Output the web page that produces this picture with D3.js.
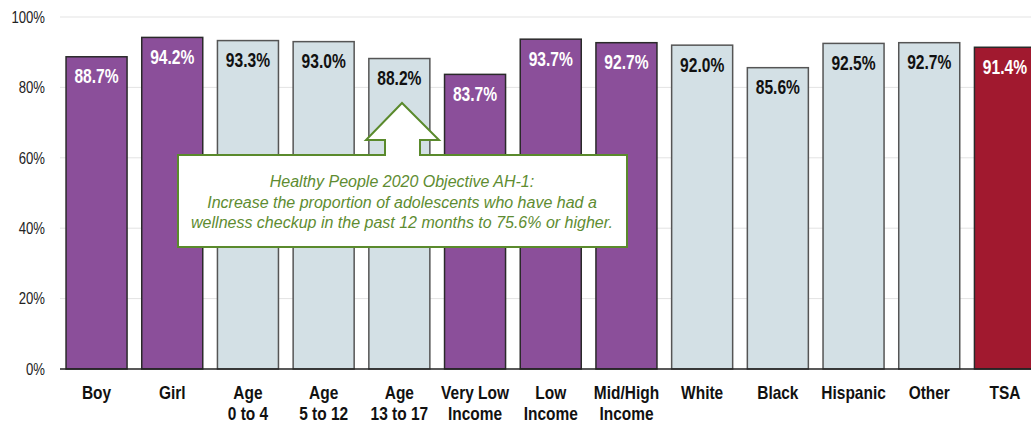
<!DOCTYPE html>
<html><head><meta charset="utf-8">
<script src="https://cdn.jsdelivr.net/npm/d3@7"></script>
<style>
body{margin:0;background:#fff;}
svg{display:block;}
</style></head>
<body>
<svg id="chart" width="1031" height="425"></svg>
<script>
const categories = [["Boy"],["Girl"],["Age","0 to 4"],["Age","5 to 12"],["Age","13 to 17"],["Very Low","Income"],["Low","Income"],["Mid/High","Income"],["White"],["Black"],["Hispanic"],["Other"],["TSA"]];
const values = [88.7,94.2,93.3,93.0,88.2,83.7,93.7,92.7,92.0,85.6,92.5,92.7,91.4];
const groups = ["sex","sex","age","age","age","income","income","income","race","race","race","race","total"];
const yTicks = [0,20,40,60,80,100];
const calloutLines = ["Healthy People 2020 Objective AH-1:","Increase the proportion of adolescents who have had a","wellness checkup in the past 12 months to 75.6% or higher."];

const fills = {sex:"#8b4f9a",age:"#d3e0e5",income:"#8b4f9a",race:"#d3e0e5",total:"#a1192f"};
const strokes = {sex:"#2a2a2a",age:"#555",income:"#2a2a2a",race:"#555",total:"#2a2a2a"};
const labelColor = {sex:"#fff",age:"#111",income:"#fff",race:"#111",total:"#fff"};
const font = "'Liberation Sans',Arial,sans-serif";

const svg = d3.select("#chart");
const idx = d3.range(values.length);
const x = d3.scaleBand().domain(idx).range([58.7,1042.8]).paddingInner(0.194).paddingOuter(0.097);
const y = d3.scaleLinear().domain([0,100]).range([369,17]);

// gridlines
svg.append("g").selectAll("line").data(yTicks.filter(d=>d>0)).join("line")
  .attr("x1",60).attr("x2",1031).attr("y1",d=>y(d)).attr("y2",d=>y(d))
  .attr("stroke","#e3e3e3").attr("stroke-width",1);

// y tick labels (condensed)
svg.append("g").selectAll("text").data(yTicks).join("text")
  .attr("transform",d=>`translate(45,${y(d)+5.8}) scale(0.82,1)`).attr("text-anchor","end")
  .attr("font-family",font).attr("font-size",16).attr("fill","#222")
  .text(d=>d+"%");

// bars
svg.append("g").selectAll("rect").data(idx).join("rect")
  .attr("x",i=>x(i)).attr("y",i=>y(values[i])).attr("width",x.bandwidth())
  .attr("height",i=>y(0)-y(values[i]))
  .attr("fill",i=>fills[groups[i]]).attr("stroke",i=>strokes[groups[i]]).attr("stroke-width",1.5);

// baseline
svg.append("line").attr("x1",60).attr("x2",1031).attr("y1",y(0)).attr("y2",y(0))
  .attr("stroke","#222").attr("stroke-width",1.5);

// value labels (condensed bold)
svg.append("g").selectAll("text").data(idx).join("text")
  .attr("transform",i=>`translate(${x(i)+x.bandwidth()/2},${y(values[i])+26.5}) scale(0.8,1)`)
  .attr("text-anchor","middle").attr("font-family",font).attr("font-weight","bold")
  .attr("font-size",19.5).attr("fill",i=>labelColor[groups[i]])
  .text(i=>values[i].toFixed(1)+"%");

// category labels (condensed bold)
const cat = svg.append("g").selectAll("text").data(idx).join("text")
  .attr("transform",i=>`translate(${x(i)+x.bandwidth()/2},399) scale(0.86,1)`)
  .attr("text-anchor","middle").attr("font-family",font).attr("font-weight","bold")
  .attr("font-size",18).attr("fill","#111");
cat.each(function(i){
  const t = d3.select(this);
  categories[i].forEach((s,k)=>{
    t.append("tspan").attr("x",0).attr("y",k*21).text(s);
  });
});

// callout with up arrow
const g = svg.append("g");
const path = d3.path();
path.moveTo(178,155); path.lineTo(385,155); path.lineTo(385,140); path.lineTo(366,140);
path.lineTo(402,103); path.lineTo(439,140); path.lineTo(420,140); path.lineTo(420,155);
path.lineTo(627,155); path.lineTo(627,247); path.lineTo(178,247); path.closePath();
g.append("path").attr("d",path.toString()).attr("fill","#fff").attr("stroke","#5a8a2c").attr("stroke-width",2);
g.selectAll("text").data(calloutLines).join("text")
  .attr("x",402).attr("y",(d,k)=>187+k*20.5).attr("text-anchor","middle")
  .attr("font-family",font).attr("font-style","italic")
  .attr("font-size",16).attr("fill","#5e8c31").text(d=>d);
</script>
</body></html>
